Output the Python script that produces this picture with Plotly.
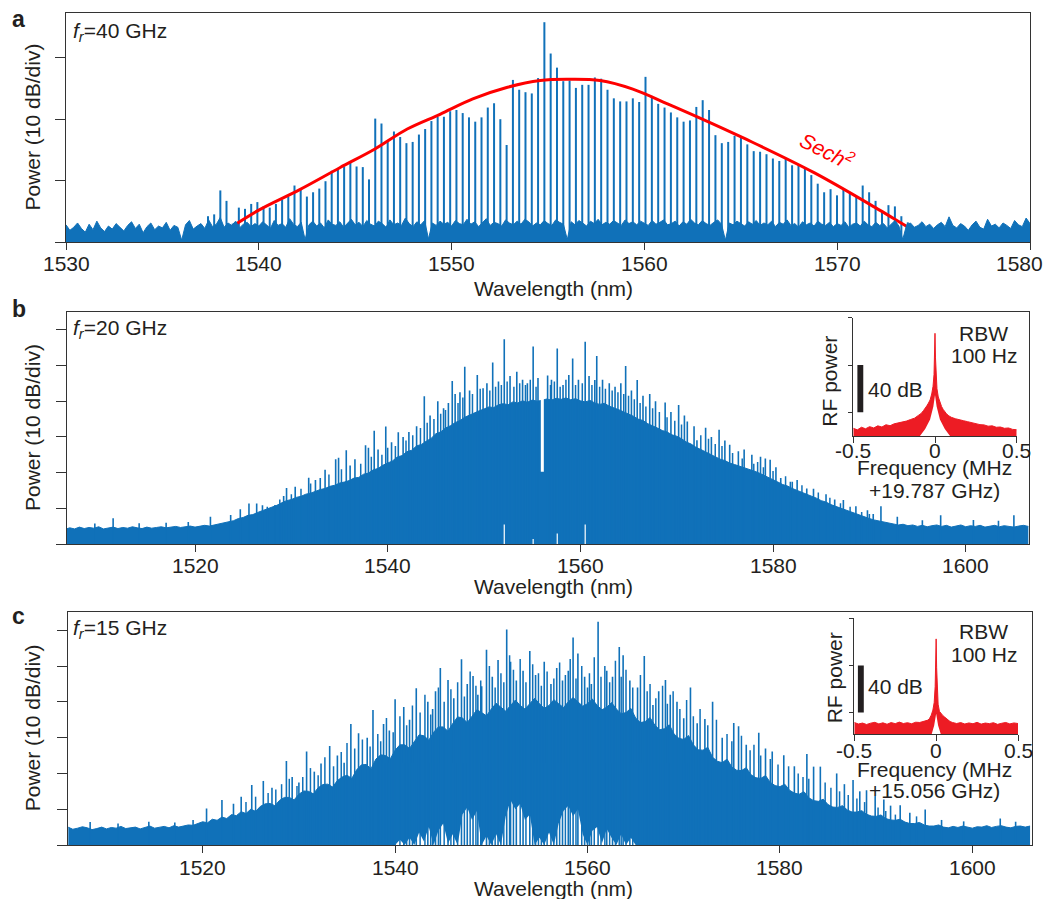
import plotly.graph_objects as go

W, H = 1047, 899
def px(x): return x / W
def py(y): return 1 - y / H

BLUE = '#1071b9'
RED = '#fe0000'
RF_RED = '#ed1c24'
INK = '#231f20'
FRAME = '#333333'
FONT = 'Liberation Sans, Arial, sans-serif'
C_LIGHT = 299792.458  # nm*THz

# ---------------- Panel a (40 GHz comb) ----------------
a_ticks = [1530, 1540, 1550, 1560, 1570, 1580]
a_f0_thz = 195.004          # frequency of first comb line
a_df_thz = 0.04052          # line spacing
a_comb_db = [4.2, 4.5,
             8.4, 6.7, 3.0, 5.6, 5.4, 6.2, 6.5, 5.8, 5.6, 6.2, 6.9, 7.4, 9.2, 8.6, 7.4, 8.1, 8.7, 9.9, 11.6, 12.0, 12.3, 13.0, 12.3,
             12.2, 10.2, 20.1, 19.3, 16.4, 18.0, 17.1, 16.1, 16.3, 17.5, 18.4, 19.7, 20.4, 20.4, 21.3, 21.5, 21.0, 20.3, 19.6, 20.3,
             21.9, 22.6, 20.0, 15.8, 26.4, 24.8, 24.4, 24.2, 26.7, 35.8, 30.7, 28.4, 26.2, 26.3, 25.1, 25.6, 25.6, 26.8, 26.6, 24.8,
             23.4, 22.9, 22.9, 23.4, 22.8, 26.9, 23.8, 22.5, 21.9, 21.1, 20.3, 19.6, 19.8, 22.0,
             23.1, 21.5, 17.4, 16.1, 16.3, 17.3, 17.1, 15.9, 14.8, 14.7, 14.3, 13.6, 13.2, 13.7, 12.5, 12.6, 12.1, 10.9, 9.5, 8.1,
             8.6, 7.6, 8.7, 8.1, 7.4, 9.2, 8.1, 6.7, 5.1, 6.0, 5.8, 4.2, 3.2]

a_noise_start, a_noise_step = 1530.0, 0.2
a_noise_db = [2.8, 1.9, 2.4, 3.1, 2.2, 1.6, 2.9, 2.0, 3.4, 2.3, 1.7, 2.6, 2.1, 3.0, 2.4, 1.8, 2.7, 3.3, 2.2, 2.9, 1.5, 2.5, 3.1, 2.0, 2.6,
              2.3, 3.2, 1.9, 2.7, 2.4, 0.3, 2.8, 3.5, 2.1, 2.6, 3.0, 2.2, 3.6, 2.5, 2.9, 4.0, 2.4, 3.1, 2.7, 3.4, 2.3, 2.9, 3.2, 2.5, 3.0,
              2.6, 3.3, 2.8, 2.2, 3.5, 2.7, 3.0, 2.4, 3.8, 2.9, 2.5, 3.2, 0.4, 2.8, 3.4, 2.6, 3.1, 2.3, 3.6, 2.9, 2.7, 3.3, 2.4, 3.0, 3.7,
              2.8, 3.2, 2.5, 3.5, 2.9, 2.6, 3.4, 3.0, 2.4, 3.6, 2.8, 3.1, 2.7, 3.9, 3.0, 2.5, 3.3, 2.8, 3.5, 0.5, 3.1, 2.7, 3.4, 2.9, 3.2,
              2.6, 3.5, 3.0, 2.8, 3.7, 2.9, 3.3, 2.5, 3.1, 3.8, 2.7, 3.2, 3.0, 2.6, 3.6, 3.1, 2.8, 3.4, 2.9, 3.7, 3.3, 2.6, 3.1, 2.8, 3.5,
              3.0, 2.7, 3.6, 3.2, 2.9, 0.4, 3.3, 2.8, 3.5, 3.1, 2.6, 3.4, 3.0, 3.7, 2.8, 3.2, 2.9, 3.5, 3.1, 2.7, 3.6, 3.0, 3.3, 2.8, 3.4,
              3.1, 2.7, 3.5, 2.9, 3.2, 3.6, 2.8, 3.0, 3.4, 2.6, 3.3, 2.9, 3.7, 3.1, 2.8, 3.5, 3.0, 2.7, 3.2, 3.6, 2.9, 0.3, 3.1, 2.8, 3.4,
              3.0, 2.6, 3.3, 2.9, 3.5, 2.7, 3.1, 2.8, 3.4, 2.5, 3.2, 2.9, 3.6, 2.7, 3.0, 2.4, 3.3, 2.8, 3.1, 2.6, 3.4, 2.9, 2.7, 3.2, 2.5,
              3.0, 2.7, 3.3, 2.4, 2.9, 3.1, 2.6, 3.4, 2.8, 2.5, 3.2, 2.7, 3.0, 2.3, 2.9, 3.5, 2.6, 0.4, 2.8, 3.1, 2.4, 2.7, 3.3, 2.5, 2.9,
              2.2, 2.8, 3.2, 2.5, 4.1, 2.7, 2.3, 3.0, 2.6, 1.9, 2.8, 3.4, 2.4, 2.1, 3.7, 2.6, 2.9, 2.3, 3.1, 2.7, 2.2, 3.5, 2.8, 2.5, 3.9,
              3.0]

a_fit_wl = [1537.35, 1538.2, 1540.0, 1542.1, 1544.2, 1546.0, 1547.7, 1549.4, 1551.1, 1552.9, 1554.6, 1556.0,
            1557.7, 1559.4, 1561.2, 1562.8, 1565.3, 1568.8, 1572.2, 1573.8, 1575.1]
a_fit_db = [0.0, 1.7, 5.2, 8.5, 12.1, 15.1, 18.4, 20.8, 23.3, 25.2, 26.3, 26.5,
            26.3, 24.9, 22.5, 20.3, 16.7, 11.3, 5.2, 2.2, 0.0]

# ---------------- Panel b (20 GHz comb) ----------------
bc_ticks = [1520, 1540, 1560, 1580, 1600]
b_core_start, b_core_step = 1506.5, 0.5
b_core_db = [4.2, 4.6, 4.3, 4.8, 4.4, 4.7, 4.5, 4.9, 4.3, 4.6, 4.8, 4.4, 4.7, 4.5, 4.9, 4.6, 4.4, 4.8, 4.5, 4.7, 4.9, 4.6, 4.8, 5.0,
             4.7, 4.9, 5.1, 4.8, 5.0, 5.3, 5.1, 5.4, 5.6, 5.9, 6.3,
             6.6, 7.2, 7.5, 8.1, 8.3, 8.9, 9.4, 9.8, 10.5, 10.9, 11.6, 12.2, 12.5, 13.1, 13.4, 14.0, 14.3, 14.9, 15.3, 15.6, 16.2,
             16.5, 17.1, 17.4,
             17.8, 18.5, 18.7, 19.6, 19.9, 20.8, 21.2, 22.1, 22.8, 23.3, 24.4, 24.8, 25.9, 26.3, 27.5, 27.9, 28.8, 29.6, 30.9, 31.4,
             32.5, 33.1, 34.0, 34.6,
             35.5, 36.1, 36.9, 37.3, 37.8, 38.4, 38.2, 39.0, 39.3, 39.0, 39.8, 39.5, 40.1, 39.7, 40.3, 40.0,
             40.2, 40.6, 40.3, 40.8, 40.5, 40.9, 40.4, 40.7, 40.1, 39.8, 40.2, 39.5, 39.1, 39.4, 38.6, 38.2,
             37.6, 37.0, 36.5, 35.8, 35.0, 34.6, 33.7, 33.2, 32.5, 31.8, 31.4, 30.6, 30.2, 29.5, 28.6, 28.0, 27.1, 26.5, 25.8, 25.0,
             24.5, 23.8, 23.4, 22.7,
             22.3, 21.9, 21.4, 21.0, 20.5, 20.0, 19.4, 18.8, 18.0, 17.4, 16.7, 16.3, 15.6, 15.1, 14.5, 14.0, 13.5, 12.9, 12.2, 11.8,
             11.1, 10.6, 10.1, 9.5, 9.0, 8.6, 8.0, 7.6, 7.2, 6.8, 6.5, 6.2,
             5.9, 5.7, 5.4, 5.6, 5.2, 5.4, 5.0, 5.3, 4.9, 5.2, 5.4, 5.0, 5.3, 4.8, 5.1, 5.4, 4.9, 5.2, 5.0, 5.3, 4.8, 5.1, 5.3, 4.9,
             5.2, 5.0, 4.8, 5.1, 5.3, 5.0]

# tall lines standing out of panel b
b_spike_wl = [1509.6, 1511.5, 1514.2, 1517.0, 1519.3, 1521.6, 1523.7, 1524.7, 1525.6, 1526.4, 1527.0, 1528.3, 1529.2, 1529.5,
              1530.4, 1531.8, 1532.5, 1533.0, 1533.5, 1534.6, 1534.9, 1535.7, 1536.1, 1536.6, 1537.7, 1538.0, 1538.6, 1539.0,
              1539.8, 1540.4, 1541.1, 1541.6, 1542.2, 1543.0, 1543.8, 1544.4, 1545.2, 1545.8, 1546.3, 1546.7, 1547.0, 1547.5,
              1548.0, 1548.5, 1549.3, 1549.9, 1550.3, 1550.9, 1551.5, 1552.1, 1552.7, 1553.4, 1554.0, 1554.5, 1555.1, 1555.6,
              1556.6, 1557.0, 1557.6, 1558.2, 1558.8, 1559.2, 1559.8, 1560.5, 1560.9, 1561.5, 1561.7, 1562.3, 1563.0, 1563.6,
              1564.2, 1564.7, 1565.3, 1565.9, 1566.5, 1567.2, 1567.8, 1568.8, 1569.4, 1570.2, 1570.8, 1571.1, 1571.8, 1572.1,
              1573.0, 1573.6, 1574.4, 1575.0, 1575.5, 1576.4, 1577.0, 1577.8, 1578.7, 1579.2, 1579.7, 1580.3, 1580.8, 1581.8,
              1582.5, 1583.5, 1584.2, 1585.5, 1586.4, 1587.3, 1588.6, 1589.8, 1590.4, 1591.2, 1592.9, 1595.5, 1597.4, 1600.8,
              1603.4, 1605.0]
b_spike_db = [5.8, 7.3, 5.9, 6.0, 6.2, 7.7, 8.2, 9.8, 11.4, 11.4, 10.9, 11.0, 13.5, 15.7,
              16.1, 18.6, 18.0, 18.5, 20.8, 23.8, 24.2, 26.3, 22.0, 23.8, 27.7, 27.0, 31.7, 26.5,
              32.9, 28.5, 31.3, 30.0, 31.4, 33.0, 41.4, 36.0, 40.0, 38.0, 39.5, 45.6, 42.0, 42.5,
              49.6, 43.0, 47.3, 43.6, 45.0, 50.8, 45.5, 57.3, 47.0, 48.2, 46.0, 45.0, 55.3, 46.5,
              47.2, 46.0, 54.7, 44.5, 47.3, 51.9, 46.0, 56.6, 47.0, 45.9, 52.6, 46.0, 45.0, 44.0,
              45.0, 49.8, 43.0, 45.9, 41.5, 42.0, 40.0, 39.6, 37.0, 38.9, 36.0, 34.3, 33.0, 29.1,
              32.6, 30.0, 32.0, 29.0, 27.8, 26.0, 26.5, 25.0, 24.5, 24.0, 23.6, 21.5, 18.5, 17.5,
              18.0, 15.6, 15.5, 14.0, 12.5, 12.4, 10.6, 9.5, 8.5, 10.6, 7.7, 6.7, 8.1, 6.8,
              6.6, 8.1]
# medium lines forming the ragged top of panel b
b_mid_wl = [1527.5, 1528.8, 1530.0, 1531.0, 1532.0, 1533.9, 1535.2, 1537.2, 1538.3, 1539.4, 1540.0, 1540.8,
            1541.9, 1542.6, 1543.4, 1544.1, 1544.8, 1545.5, 1546.0, 1547.3, 1547.8, 1548.8, 1549.6, 1550.6,
            1551.2, 1551.8, 1552.4, 1553.1, 1553.7, 1554.3, 1554.8, 1555.4, 1556.9, 1557.3, 1557.9, 1558.5,
            1559.5, 1560.2, 1561.2, 1562.0, 1562.6, 1563.3, 1563.9, 1564.5, 1565.0, 1565.6, 1566.2, 1566.8,
            1567.5, 1568.2, 1569.0, 1569.8, 1570.5, 1572.5, 1573.3, 1574.0, 1574.7, 1575.8, 1576.8, 1578.0,
            1578.4, 1579.0, 1580.0, 1581.3, 1582.0, 1583.0, 1584.7, 1585.9, 1587.0, 1588.0, 1589.2, 1590.0]
b_mid_db = [10.5, 12.5, 14.0, 15.5, 17.0, 19.5, 21.0, 22.5, 24.5, 25.0, 27.0, 27.5,
            29.0, 30.5, 32.5, 34.0, 35.0, 36.5, 37.5, 39.5, 41.0, 42.0, 43.5, 43.0,
            44.0, 44.5, 45.5, 44.0, 45.0, 44.5, 46.0, 44.0, 44.5, 45.5, 44.0, 46.0,
            44.5, 45.0, 44.5, 44.0, 43.5, 43.0, 42.5, 42.0, 41.5, 40.5, 39.5, 38.5,
            38.0, 37.0, 35.5, 34.5, 33.5, 30.5, 29.5, 28.0, 27.5, 25.5, 24.0, 22.5,
            23.0, 21.5, 20.5, 19.0, 17.5, 16.5, 14.5, 13.0, 11.5, 10.5, 9.0, 8.5]
b_notch_wl, b_notch_db = 1556.05, 20.3          # filtered pump line
b_gap_wl = [1552.1, 1555.1, 1557.6, 1560.5]     # white slivers at the bottom
b_gap_db = [5.5, 1.5, 3.0, 5.5]

# ---------------- Panel c (15 GHz comb) ----------------
c_grid_start, c_grid_step = 1506.0, 0.5
c_core_db = [5.0, 4.4, 4.7, 5.1, 4.8, 4.3, 4.6, 5.0, 4.5, 4.9, 4.7, 5.2, 4.6, 4.9, 5.0, 4.5, 4.8, 5.3, 4.7, 5.0,
             5.2, 4.8, 5.4, 5.0, 5.3, 5.6, 5.5, 5.9,
             6.5, 6.2, 7.2, 6.9, 7.8, 7.4, 8.5, 8.2, 9.3, 8.8,
             10.0, 9.4, 10.8, 11.5, 11.6, 11.0, 12.5, 13.3, 13.3, 12.6, 14.2, 15.1, 15.0, 14.3, 16.0, 16.9, 17.0, 16.2, 18.0, 19.0,
             19.5, 18.6, 21.0, 22.4, 22.5, 21.3, 24.0, 25.2, 25.0, 24.1, 26.5, 28.0, 28.0, 27.0, 29.0, 30.8, 30.5, 29.3, 31.5, 33.0,
             33.0, 31.8, 34.0, 35.8, 35.5, 34.2, 36.0, 37.8, 37.0, 36.1, 38.0, 39.6, 38.5, 37.4, 39.0, 40.5, 39.0, 38.0, 39.5, 41.0,
             39.5, 38.2, 39.0, 40.6, 39.5, 38.4, 40.0, 41.2, 40.0, 38.8, 39.5, 40.8, 39.0, 37.8, 38.5, 39.8, 38.0, 36.7, 37.0, 38.2,
             35.5, 34.2, 34.5, 35.6, 33.5, 32.2, 32.5, 33.6, 31.0, 29.8, 29.5, 30.6, 28.0, 26.6, 26.5, 27.3, 24.5, 23.4, 23.0, 24.0,
             21.8, 20.9, 20.8, 21.6, 19.6, 18.8, 18.6, 19.4, 17.5, 16.6, 16.3, 17.0, 15.3, 14.5, 14.2, 14.9, 13.2, 12.4, 12.2, 12.8,
             11.3, 10.6, 10.5, 11.0, 9.8, 9.2, 9.2, 9.6, 8.6, 8.1, 8.0, 8.4, 7.4, 7.0, 6.9, 7.2, 6.4, 6.0, 6.0, 6.3,
             5.6, 5.3, 5.3, 5.6, 5.0, 4.8, 5.2, 4.9, 5.3, 5.0, 4.7, 5.1, 5.0, 5.4, 4.9, 5.2, 5.4, 5.0, 4.8, 5.2, 5.3, 5.0, 5.3]
# lower edge of the dense line forest (white gaps at the bottom), same 0.5 nm grid
c_low_db = [0.0] * 68 + [0.0, 1.5, 0.0, 2.0, 0.0, 3.5, 1.0, 5.0, 0.0, 4.0, 6.0, 0.5, 3.0, 0.0, 8.5, 10.5, 7.0, 9.5,
                         0.0, 2.5, 0.0, 3.0, 0.0, 8.0, 12.5, 10.0, 11.5, 7.0, 8.5, 0.0, 2.0, 0.0, 3.5, 0.0, 6.0, 9.5,
                         11.0, 8.0, 10.0, 3.0, 0.0, 4.0, 5.0, 0.5, 4.5, 2.0, 0.0, 3.0, 0.0, 2.0, 0.0] + [0.0] * 82
c_spike_wl = [1508.3, 1511.2, 1514.4, 1517.1, 1519.0, 1520.4, 1522.0, 1523.2, 1524.0, 1525.1, 1526.3, 1527.2, 1528.7, 1529.3,
              1530.0, 1530.8, 1531.6, 1532.3, 1533.2, 1534.0, 1534.7, 1535.4, 1536.2, 1537.1, 1537.7, 1538.8, 1539.4, 1540.0,
              1540.9, 1541.5, 1542.2, 1543.4, 1543.9, 1544.2, 1544.7, 1545.5, 1546.1, 1546.9, 1547.5, 1548.1, 1548.6, 1549.0,
              1549.5, 1550.1, 1550.7, 1551.6, 1552.0, 1552.6, 1553.3, 1554.0, 1554.6, 1555.5, 1556.2, 1556.8, 1557.4, 1558.0,
              1558.5, 1559.0, 1559.7, 1560.0, 1560.4, 1561.1, 1562.0, 1562.6, 1563.3, 1563.7, 1564.4, 1565.2, 1565.9, 1566.8,
              1567.4, 1568.1, 1568.6, 1569.3, 1570.0, 1570.7, 1571.4, 1572.2, 1573.0, 1574.0, 1575.2, 1575.7, 1576.5, 1577.8,
              1578.5, 1579.2, 1580.4, 1581.5, 1582.8, 1583.5, 1584.2, 1585.9, 1586.7, 1587.6, 1588.3, 1589.0, 1589.9, 1590.8,
              1591.5, 1592.5, 1593.5, 1595.1, 1596.8, 1599.1, 1602.9, 1604.5]
c_spike_db = [6.4, 6.0, 6.5, 6.3, 7.0, 10.2, 12.6, 11.5, 13.5, 16.8, 17.9, 16.0, 23.5, 19.0,
              17.5, 26.1, 20.5, 22.8, 27.7, 25.0, 23.0, 33.8, 31.2, 30.0, 37.7, 33.8, 32.0, 40.7,
              38.6, 35.0, 43.8, 40.0, 38.0, 43.0, 49.5, 46.1, 41.0, 51.9, 45.0, 47.2, 42.0, 44.4,
              54.6, 47.0, 51.7, 60.2, 51.2, 46.0, 48.7, 54.2, 47.5, 51.2, 45.0, 49.5, 46.0, 48.7,
              58.0, 53.5, 47.0, 44.0, 45.0, 62.4, 48.7, 47.0, 55.3, 53.0, 46.0, 44.0, 52.8, 39.1,
              43.0, 46.1, 42.0, 40.0, 35.4, 44.0, 34.0, 35.2, 40.0, 30.0, 34.1, 33.2, 28.0, 31.4,
              27.0, 26.1, 25.1, 22.0, 25.4, 21.9, 21.9, 20.0, 17.0, 18.2, 15.0, 15.3, 13.7, 12.7,
              11.0, 11.1, 9.0, 9.9, 7.0, 6.6, 7.4, 6.5]
c_mid_wl = [1524.5, 1525.5, 1526.8, 1527.6, 1528.2, 1529.0, 1529.8, 1530.4, 1531.2, 1532.0, 1532.7, 1533.6,
            1534.4, 1535.0, 1535.8, 1536.6, 1537.4, 1538.2, 1538.5, 1539.1, 1539.8, 1540.5, 1541.2, 1541.8,
            1542.6, 1543.1, 1543.7, 1544.5, 1545.1, 1545.8, 1546.5, 1547.2, 1547.8, 1548.4, 1548.9, 1549.8,
            1550.4, 1551.0, 1551.3, 1551.9, 1552.3, 1553.0, 1553.6, 1554.3, 1554.9, 1555.2, 1555.8, 1556.5,
            1557.1, 1557.7, 1558.2, 1558.8, 1559.4, 1560.2, 1560.7, 1561.4, 1561.8, 1562.3, 1562.9, 1563.5,
            1564.0, 1564.7, 1565.5, 1566.2, 1566.5, 1567.1, 1567.8, 1568.3, 1568.9, 1569.6, 1570.3, 1571.0,
            1571.7, 1572.5, 1573.4, 1574.5, 1575.0, 1576.0, 1576.9, 1577.3, 1578.0, 1579.0, 1579.8, 1580.9,
            1581.9, 1582.4, 1583.0, 1584.7, 1585.3, 1586.2, 1587.1, 1588.0, 1588.8, 1590.2, 1591.0, 1592.0,
            1594.2]
c_mid_db = [12.0, 13.5, 14.5, 15.5, 17.0, 18.5, 16.5, 19.0, 21.5, 19.5, 24.5, 22.0,
            26.0, 28.5, 27.0, 29.5, 27.5, 31.0, 29.0, 35.5, 31.5, 36.0, 33.5, 39.0,
            37.0, 42.0, 36.5, 44.0, 40.0, 43.5, 45.5, 41.5, 48.5, 44.5, 46.0, 50.0,
            44.0, 48.0, 45.5, 53.0, 49.0, 52.0, 45.5, 50.5, 48.0, 44.5, 48.5, 46.5,
            51.0, 47.5, 52.0, 46.5, 50.0, 48.0, 52.5, 47.0, 50.0, 45.5, 51.5, 47.0,
            49.0, 44.0, 47.5, 43.0, 45.0, 41.0, 44.5, 39.5, 43.0, 38.0, 40.5, 36.0,
            38.0, 33.5, 35.0, 31.0, 29.0, 30.5, 26.5, 28.0, 25.0, 24.0, 22.5, 22.0,
            20.0, 19.0, 18.5, 17.5, 16.0, 15.0, 14.0, 13.0, 12.0, 10.5, 9.5, 8.5,
            8.0]

# ---------------- Insets (RF beat notes) ----------------
rf_b_x = [-0.5, -0.475, -0.45, -0.425, -0.4, -0.375, -0.35, -0.325, -0.3, -0.275, -0.25, -0.225, -0.2, -0.175, -0.15,
          -0.125, -0.1, -0.085, -0.07, -0.06, -0.05, -0.04, -0.03, -0.02, -0.012, -0.006, -0.003, 0.0, 0.003, 0.006,
          0.012, 0.02, 0.03, 0.04, 0.05, 0.06, 0.07, 0.085, 0.1, 0.125, 0.15, 0.175, 0.2, 0.225, 0.25, 0.275, 0.3,
          0.325, 0.35, 0.375, 0.4, 0.425, 0.45, 0.475, 0.5]
rf_b_top = [6.5, 5.2, 7.4, 6.1, 7.9, 6.8, 8.6, 7.6, 9.5, 8.7, 10.3, 10.9, 12.0, 12.6, 13.9,
            15.1, 17.6, 19.0, 21.6, 23.2, 25.5, 27.8, 30.5, 35.5, 42.0, 52.0, 62.0, 86.8, 66.0, 52.0,
            40.0, 33.0, 28.0, 25.0, 22.5, 20.5, 18.8, 17.0, 15.8, 14.6, 13.5, 12.9, 12.1, 11.2, 10.8, 9.6, 9.4,
            8.3, 8.6, 7.4, 7.6, 6.5, 6.8, 5.6, 5.3]
rf_b_low_x = [-0.5, -0.092, -0.06, -0.03, -0.01, 0.0, 0.01, 0.03, 0.06, 0.092, 0.5]
rf_b_low = [0.0, 0.0, 6.0, 14.0, 25.0, 34.6, 25.0, 14.0, 6.0, 0.0, 0.0]

rf_c_x = rf_b_x
rf_c_top = [11.5, 10.2, 11.0, 9.8, 10.9, 11.6, 10.3, 11.2, 10.0, 11.4, 10.5, 11.8, 10.6, 11.3, 10.4,
            11.7, 11.5, 12.0, 12.6, 13.0, 13.5, 15.0, 17.7, 22.0, 28.5, 42.0, 55.0, 82.5, 58.0, 45.0,
            27.0, 21.0, 19.0, 17.5, 16.3, 15.0, 13.5, 12.3, 11.5, 10.6, 11.4, 10.2, 11.1, 10.4, 11.6, 10.1, 11.0,
            10.5, 11.3, 9.9, 10.8, 11.5, 10.3, 11.1, 10.6]
rf_c_low_x = [-0.5, -0.027, -0.012, 0.0, 0.012, 0.028, 0.5]
rf_c_low = [1.7, 1.7, 9.0, 19.0, 9.0, 1.7, 1.7]
rf_tick_vals = [-0.5, 0.0, 0.5]
rf_tick_text = ['-0.5', '0', '0.5']

# ---------------- helpers ----------------
def sticks(xs, ys, base=0.0):
    X, Y = [], []
    for x, y in zip(xs, ys):
        X += [x, x, None]
        Y += [base, y, None]
    return X, Y

fig = go.Figure()

# Panel a
a_comb_wl = [C_LIGHT / (a_f0_thz - i * a_df_thz) for i in range(len(a_comb_db))]
X, Y = sticks(a_comb_wl, a_comb_db)
fig.add_trace(go.Scatter(x=X, y=Y, mode='lines', line=dict(color=BLUE, width=2), xaxis='x', yaxis='y'))
fig.add_trace(go.Scatter(x=a_fit_wl, y=a_fit_db, mode='lines', line=dict(color=RED, width=3, shape='spline'),
                         xaxis='x', yaxis='y'))
a_noise_wl = [a_noise_start + i * a_noise_step for i in range(len(a_noise_db))]
fig.add_trace(go.Scatter(x=a_noise_wl, y=a_noise_db, mode='lines', fill='tozeroy', fillcolor=BLUE,
                         line=dict(color=BLUE, width=1), xaxis='x', yaxis='y'))

# Panel b
b_core_wl = [b_core_start + i * b_core_step for i in range(len(b_core_db))]
fig.add_trace(go.Scatter(x=b_core_wl, y=b_core_db, mode='lines', fill='tozeroy', fillcolor=BLUE,
                         line=dict(color=BLUE, width=1), xaxis='x2', yaxis='y2'))
X, Y = sticks(b_mid_wl, b_mid_db)
fig.add_trace(go.Scatter(x=X, y=Y, mode='lines', line=dict(color=BLUE, width=1.5), xaxis='x2', yaxis='y2'))
X, Y = sticks(b_spike_wl, b_spike_db)
fig.add_trace(go.Scatter(x=X, y=Y, mode='lines', line=dict(color=BLUE, width=1.6), xaxis='x2', yaxis='y2'))
fig.add_trace(go.Scatter(x=[b_notch_wl, b_notch_wl], y=[b_notch_db, 50], mode='lines',
                         line=dict(color='white', width=3), xaxis='x2', yaxis='y2'))
X, Y = sticks(b_gap_wl, b_gap_db)
fig.add_trace(go.Scatter(x=X, y=Y, mode='lines', line=dict(color='white', width=1.2), xaxis='x2', yaxis='y2'))

# Panel c
c_grid_wl = [c_grid_start + i * c_grid_step for i in range(len(c_core_db))]
fig.add_trace(go.Scatter(x=c_grid_wl, y=c_low_db, mode='lines', line=dict(color=BLUE, width=0),
                         xaxis='x3', yaxis='y3'))
fig.add_trace(go.Scatter(x=c_grid_wl, y=c_core_db, mode='lines', fill='tonexty', fillcolor=BLUE,
                         line=dict(color=BLUE, width=1), xaxis='x3', yaxis='y3'))
X, Y = sticks(c_mid_wl, c_mid_db)
fig.add_trace(go.Scatter(x=X, y=Y, mode='lines', line=dict(color=BLUE, width=1.5), xaxis='x3', yaxis='y3'))
X, Y = sticks(c_spike_wl, c_spike_db)
fig.add_trace(go.Scatter(x=X, y=Y, mode='lines', line=dict(color=BLUE, width=1.6), xaxis='x3', yaxis='y3'))

# Insets
fig.add_trace(go.Scatter(x=rf_b_low_x, y=rf_b_low, mode='lines', line=dict(color=RF_RED, width=0),
                         xaxis='x4', yaxis='y4'))
fig.add_trace(go.Scatter(x=rf_b_x, y=rf_b_top, mode='lines', fill='tonexty', fillcolor=RF_RED,
                         line=dict(color=RF_RED, width=1), xaxis='x4', yaxis='y4'))
fig.add_trace(go.Scatter(x=rf_c_low_x, y=rf_c_low, mode='lines', line=dict(color=RF_RED, width=0),
                         xaxis='x5', yaxis='y5'))
fig.add_trace(go.Scatter(x=rf_c_x, y=rf_c_top, mode='lines', fill='tonexty', fillcolor=RF_RED,
                         line=dict(color=RF_RED, width=1), xaxis='x5', yaxis='y5'))

tickfont = dict(family=FONT, size=21, color=INK)

def main_x(dom, rng, ticks, anchor):
    return dict(domain=[px(dom[0]), px(dom[1])], range=rng, tickvals=ticks, anchor=anchor, automargin=False,
                showgrid=False, zeroline=False, showline=True, mirror=True, linecolor=FRAME, linewidth=1.3,
                ticks='outside', ticklen=7, tickwidth=1.3, tickcolor=FRAME, showticklabels=False)

def main_y(dom, rng, ticks, anchor):
    return dict(domain=[py(dom[1]), py(dom[0])], range=rng, tickvals=ticks, anchor=anchor, automargin=False,
                showgrid=False, zeroline=False, showline=True, mirror=True, linecolor=FRAME, linewidth=1.3,
                ticks='outside', ticklen=10, tickwidth=1.3, tickcolor=FRAME, showticklabels=False)

def inset_x(dom, anchor):
    return dict(domain=[px(dom[0]), px(dom[1])], range=[-0.5, 0.5], tickvals=rf_tick_vals, anchor=anchor,
                automargin=False, showgrid=False, zeroline=False, showline=True, mirror=False, linecolor=FRAME,
                linewidth=1.3, ticks='outside', ticklen=6, tickwidth=1.3, tickcolor=FRAME, showticklabels=False)

def inset_y(dom, rng, anchor):
    return dict(domain=[py(dom[1]), py(dom[0])], range=rng, tickvals=[20, 60, 100], anchor=anchor,
                automargin=False, showgrid=False, zeroline=False, showline=True, mirror=False, linecolor=FRAME,
                linewidth=1.3, ticks='outside', ticklen=4, tickwidth=1.3, tickcolor=FRAME, showticklabels=False)

fig.update_layout(
    width=W, height=H, autosize=False, margin=dict(l=0, r=0, t=0, b=0, pad=0, autoexpand=False),
    showlegend=False, paper_bgcolor='white', plot_bgcolor='rgba(0,0,0,0)',
    font=dict(family=FONT, size=21, color=INK),
    xaxis=main_x((66, 1030), [1530, 1580], a_ticks, 'y'),
    yaxis=main_y((13, 242), [0, 37.3], [0, 10, 20, 30], 'x'),
    xaxis2=main_x((66.7, 1029.3), [1506.68, 1606.6], bc_ticks, 'y2'),
    yaxis2=main_y((311.7, 544.3), [0, 65], [0, 10, 20, 30, 40, 50, 60], 'x2'),
    xaxis3=main_x((68.3, 1031.7), [1506.03, 1606.17], bc_ticks, 'y3'),
    yaxis3=main_y((611.7, 845), [0, 65.2], [0, 10, 20, 30, 40, 50, 60], 'x3'),
    xaxis4=inset_x((853.3, 1016.7), 'y4'),
    yaxis4=inset_y((317.7, 436), [0, 100], 'x4'),
    xaxis5=inset_x((854.3, 1018), 'y5'),
    yaxis5=inset_y((618.3, 734), [1.7, 100], 'x5'),
)

# 40 dB scale bars
fig.add_shape(type='rect', xref='x4', yref='y4', x0=-0.475, x1=-0.439, y0=20, y1=60,
              fillcolor=INK, line=dict(width=0))
fig.add_shape(type='rect', xref='x5', yref='y5', x0=-0.478, x1=-0.442, y0=20, y1=60,
              fillcolor=INK, line=dict(width=0))

def ann(text, x, y, size=21, color=INK, xanchor='center', yanchor='middle', angle=0, xref='paper'):
    fig.add_annotation(text=text, x=(px(x) if xref == 'paper' else x), y=py(y), xref=xref, yref='paper',
                       showarrow=False, xanchor=xanchor, yanchor=yanchor, textangle=angle,
                       font=dict(family=FONT, size=size, color=color))

# main tick labels
for v in a_ticks[:-1]:
    ann(str(v), v, 263, xref='x')
ann(str(a_ticks[-1]), 1019, 263)            # last label pulled inside the page, as in the original
for v in bc_ticks:
    ann(str(v), v, 565, xref='x2')
    ann(str(v), v, 867, xref='x3')
# inset tick labels (plain hyphen, as in the original)
for v, t in zip(rf_tick_vals, rf_tick_text):
    ann(t, v, 450.5, xref='x4')
    ann(t, v, 750.5, xref='x5')

# panel letters
ann('<b>a</b>', 18.5, 19, size=23)
ann('<b>b</b>', 18.5, 309, size=23)
ann('<b>c</b>', 18.5, 616, size=23)
# rep-rate labels
ann('<i>f</i><sub><i>r</i></sub>=40 GHz', 71, 32, xanchor='left')
ann('<i>f</i><sub><i>r</i></sub>=20 GHz', 71, 329, xanchor='left')
ann('<i>f</i><sub><i>r</i></sub>=15 GHz', 71, 629, xanchor='left')
# axis titles
for yc in (127.5, 428, 728.3):
    ann('Power (10 dB/div)', 32, yc, angle=-90)
for yc in (288, 586, 888):
    ann('Wavelength (nm)', 553, yc)
# sech^2 label
ann('<i>Sech<sup>2</sup></i>', 827, 150, color=RED, angle=27)
# inset texts
ann('RF power', 830, 381.7, angle=-90)
ann('RF power', 834, 678.3, angle=-90)
ann('RBW', 983, 333.3)
ann('100 Hz', 984, 355)
ann('RBW', 983, 631.7)
ann('100 Hz', 984, 654.3)
ann('40 dB', 866, 389.3, xanchor='left')
ann('40 dB', 866, 686.7, xanchor='left')
ann('Frequency (MHz', 934, 468)
ann('+19.787 GHz)', 934.7, 490)
ann('Frequency (MHz', 934, 769)
ann('+15.056 GHz)', 934.7, 790)

fig.write_html('out.html')
